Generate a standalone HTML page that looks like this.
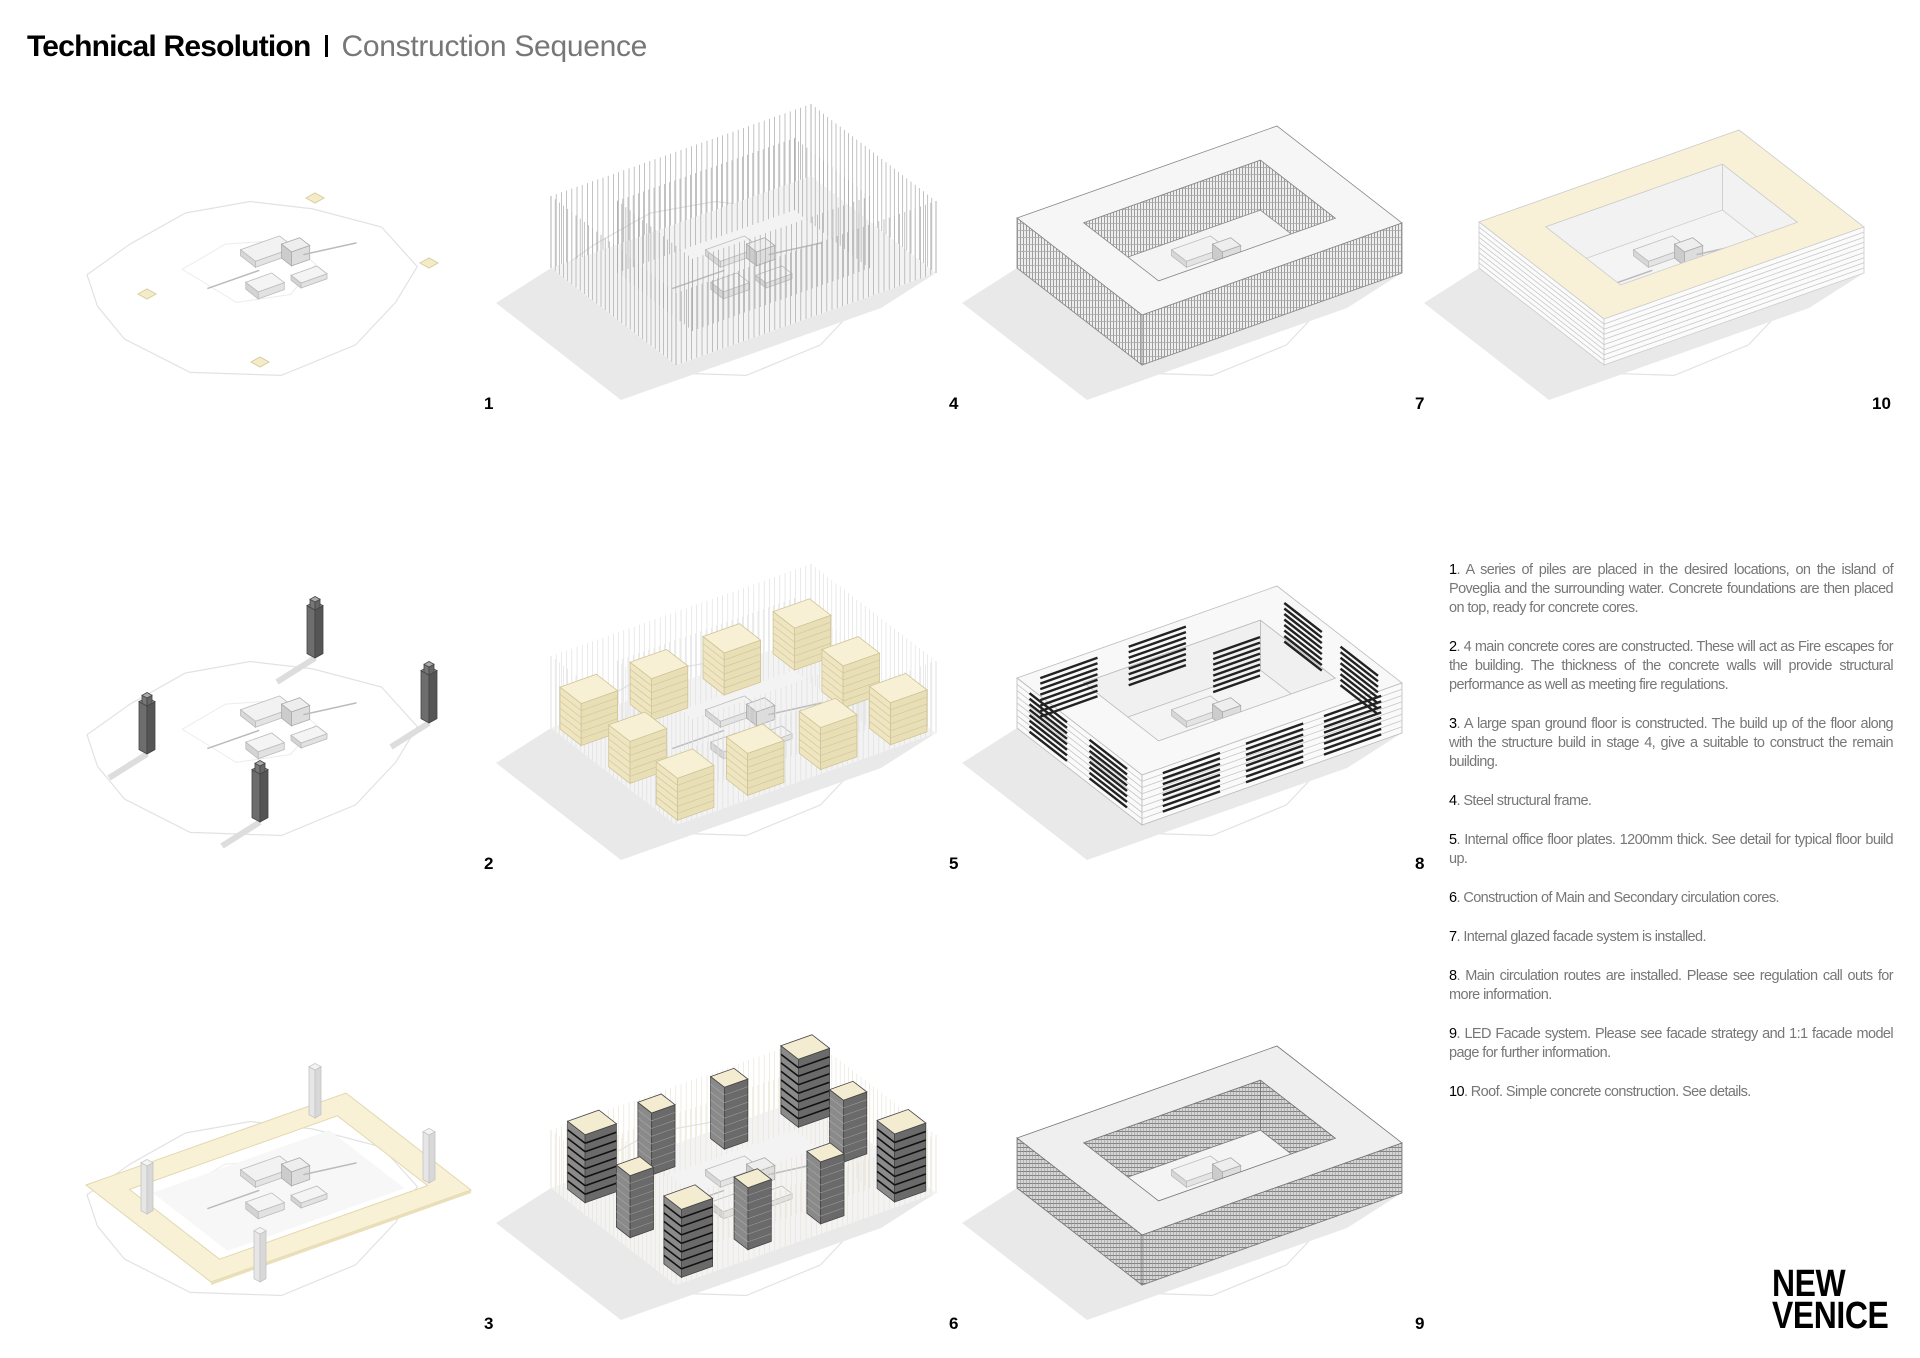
<!DOCTYPE html>
<html><head><meta charset="utf-8">
<style>
html,body{margin:0;padding:0;background:#fff;}
body{width:1920px;height:1358px;position:relative;overflow:hidden;font-family:"Liberation Sans",Arial,sans-serif;}
#title{position:absolute;left:27px;top:30px;font-size:30px;white-space:nowrap;}
#title b{font-weight:bold;letter-spacing:-0.8px;color:#000;}
#title span.bar{display:inline-block;width:3px;height:22px;background:#000;margin:0 14px 0 14px;vertical-align:-1px;}
#title span.sub{color:#777;letter-spacing:-0.3px;}
.num{position:absolute;font-weight:bold;font-size:17px;color:#000;}
#notes{position:absolute;left:1449px;top:561px;width:444px;font-size:14.5px;line-height:19px;color:#777;text-align:justify;letter-spacing:-0.6px;}
#notes p{margin:0 0 20px 0;}
#notes p b{color:#000;font-weight:normal;}
#logo{position:absolute;left:1772px;top:1268px;font-weight:bold;font-size:38px;line-height:32px;color:#000;transform:scaleX(0.84);transform-origin:left top;letter-spacing:-0.5px;}
svg{position:absolute;left:0;top:0;}
</style></head><body>
<svg id="art" width="1920" height="1358" viewBox="0 0 1920 1358"></svg>

<div id="title"><b>Technical Resolution</b><span class="bar"></span><span class="sub">Construction Sequence</span></div>

<div class="num" style="left:484px;top:394px">1</div>
<div class="num" style="left:949px;top:394px">4</div>
<div class="num" style="left:1415px;top:394px">7</div>
<div class="num" style="left:1872px;top:394px">10</div>
<div class="num" style="left:484px;top:854px">2</div>
<div class="num" style="left:949px;top:854px">5</div>
<div class="num" style="left:1415px;top:854px">8</div>
<div class="num" style="left:484px;top:1314px">3</div>
<div class="num" style="left:949px;top:1314px">6</div>
<div class="num" style="left:1415px;top:1314px">9</div>

<div id="notes">
<p><b>1</b>. A series of piles are placed in the desired locations, on the island of Poveglia and the surrounding water. Concrete foundations are then placed on top, ready for concrete cores.</p>
<p><b>2</b>. 4 main concrete cores are constructed. These will act as Fire escapes for the building. The thickness of the concrete walls will provide structural performance as well as meeting fire regulations.</p>
<p><b>3</b>. A large span ground floor is constructed. The build up of the floor along with the structure build in stage 4, give a suitable to construct the remain building.</p>
<p><b>4</b>. Steel structural frame.</p>
<p><b>5</b>. Internal office floor plates. 1200mm thick. See detail for typical floor build up.</p>
<p><b>6</b>. Construction of Main and Secondary circulation cores.</p>
<p><b>7</b>. Internal glazed facade system is installed.</p>
<p><b>8</b>. Main circulation routes are installed. Please see regulation call outs for more information.</p>
<p><b>9</b>. LED Facade system. Please see facade strategy and 1:1 facade model page for further information.</p>
<p><b>10</b>. Roof. Simple concrete construction. See details.</p>
</div>

<div id="logo">NEW<br>VENICE</div>

<script>
(function(){
var out=[];
out.push('<defs>'+
'<pattern id="vgrid" patternUnits="userSpaceOnUse" width="3" height="7"><rect width="3" height="7" fill="#eee"/><line x1="0.5" y1="0" x2="0.5" y2="7" stroke="#888" stroke-width="0.8"/><line x1="0" y1="6.5" x2="3" y2="6.5" stroke="#aaa" stroke-width="0.8"/></pattern>'+
'<pattern id="hatch" patternUnits="userSpaceOnUse" width="3" height="4"><rect width="3" height="4" fill="#d6d6d6"/><line x1="0" y1="3.5" x2="3" y2="3.5" stroke="#777" stroke-width="0.9"/><line x1="0.5" y1="0" x2="0.5" y2="4" stroke="#999" stroke-width="0.6"/></pattern>'+
'</defs>');
function P(o,s,t,h){return [o.x+s*260+t*125, o.y-s*92+t*97-(h||0)];}
function pts(a){return a.map(function(p){return p[0].toFixed(1)+','+p[1].toFixed(1);}).join(' ');}
function poly(a,fill,stroke,sw){out.push('<polygon points="'+pts(a)+'" fill="'+fill+'" stroke="'+(stroke||'none')+'" stroke-width="'+(sw||0.8)+'"/>');}
function line(a,b,stroke,sw){out.push('<line x1="'+a[0].toFixed(1)+'" y1="'+a[1].toFixed(1)+'" x2="'+b[0].toFixed(1)+'" y2="'+b[1].toFixed(1)+'" stroke="'+stroke+'" stroke-width="'+(sw||0.8)+'"/>');}
function box(o,s0,t0,s1,t1,h0,h1,top,left,front,st){
 poly([P(o,s0,t0,h0),P(o,s0,t1,h0),P(o,s0,t1,h1),P(o,s0,t0,h1)],left,st);
 poly([P(o,s0,t1,h0),P(o,s1,t1,h0),P(o,s1,t1,h1),P(o,s0,t1,h1)],front,st);
 poly([P(o,s0,t0,h1),P(o,s1,t0,h1),P(o,s1,t1,h1),P(o,s0,t1,h1)],top,st);
}
// screen-space small box: base center (x,y), half-width w, height h
function sbox(x,y,w,h,top,left,front,st){
 var d=w*0.55;
 poly([[x-w,y-d],[x,y],[x,y-h],[x-w,y-d-h]],left,st);
 poly([[x,y],[x+w,y-d],[x+w,y-d-h],[x,y-h]],front,st);
 poly([[x-w,y-d-h],[x,y-2*d-h],[x+w,y-d-h],[x,y-h]],top,st);
}
function island(o){
 var isl=[[-0.02,0.05],[0.2,-0.06],[0.45,-0.14],[0.66,-0.06],[0.8,0.15],[0.92,0.45],[0.88,0.82],[0.7,1.02],[0.45,1.22],[0.15,1.25],[-0.08,1.0],[-0.14,0.6],[-0.1,0.3]];
 poly(isl.map(function(q){return P(o,q[0],q[1],0);}),'none','#e2e2e2',1.2);
 var isl2=[[0.25,0.25],[0.45,0.18],[0.62,0.3],[0.62,0.55],[0.45,0.7],[0.28,0.62]];
 poly(isl2.map(function(q){return P(o,q[0],q[1],0);}),'none','#ececec',1);
}
function center(o){
 box(o,0.45,0.3,0.6,0.42,0,6,'#f2f2f2','#d8d8d8','#e4e4e4','#bbb');
 box(o,0.55,0.42,0.62,0.5,0,14,'#eee','#ccc','#ddd','#aaa');
 box(o,0.35,0.55,0.45,0.65,0,7,'#f4f4f4','#d4d4d4','#e2e2e2','#bbb');
 box(o,0.5,0.6,0.6,0.68,0,5,'#f4f4f4','#d4d4d4','#e2e2e2','#bbb');
 line(P(o,0.25,0.45,0),P(o,0.45,0.45,0),'#bbb',1.5);
 line(P(o,0.62,0.45,0),P(o,0.8,0.5,0),'#bbb',1.5);
}
function shadow(o){
 var d=[-55,35];
 var a=P(o,0,0,0),b=P(o,0,1,0),c=P(o,1,1,0);
 poly([a,b,c,[c[0]+d[0],c[1]+d[1]],[b[0]+d[0],b[1]+d[1]],[a[0]+d[0],a[1]+d[1]]],'#e9e9e9');
}
var A=0.16,B=0.84,C=0.2,D=0.8;
function ring(o,H,top,side,st,floors,innerSide){
 poly([P(o,A,C,0),P(o,B,C,0),P(o,B,D,0),P(o,A,D,0)],'#f4f4f4');
 poly([P(o,B,C,0),P(o,B,D,0),P(o,B,D,H),P(o,B,C,H)],innerSide||side,st);
 poly([P(o,A,C,0),P(o,B,C,0),P(o,B,C,H),P(o,A,C,H)],innerSide||side,st);
 center(o);
 var outer=[P(o,0,0,H),P(o,1,0,H),P(o,1,1,H),P(o,0,1,H)];
 var inner=[P(o,A,C,H),P(o,B,C,H),P(o,B,D,H),P(o,A,D,H)];
 out.push('<path fill-rule="evenodd" d="M'+pts(outer).replace(/ /g,' L')+' Z M'+pts(inner).replace(/ /g,' L')+' Z" fill="'+top+'" stroke="'+st+'" stroke-width="0.8"/>');
 poly([P(o,0,0,0),P(o,0,1,0),P(o,0,1,H),P(o,0,0,H)],side,st);
 poly([P(o,0,1,0),P(o,1,1,0),P(o,1,1,H),P(o,0,1,H)],side,st);
 if(floors){for(var k=1;k<floors;k++){var h=H*k/floors;
  line(P(o,0,0,h),P(o,0,1,h),'#c8c8c8',0.8);line(P(o,0,1,h),P(o,1,1,h),'#c8c8c8',0.8);}}
}
function frame(o,H,col,sw){
 var n;
 for(n=0;n<=50;n++){var s=n/50;
  line(P(o,s,0,0),P(o,s,0,H),col,sw);line(P(o,s,1,0),P(o,s,1,H),col,sw);
  if(s>=A&&s<=B){line(P(o,s,C,0),P(o,s,C,H),col,sw);line(P(o,s,D,0),P(o,s,D,H),col,sw);}
 }
 for(n=0;n<=30;n++){var t=n/30;
  line(P(o,0,t,0),P(o,0,t,H),col,sw);line(P(o,1,t,0),P(o,1,t,H),col,sw);
  if(t>=C&&t<=D){line(P(o,A,t,0),P(o,A,t,H),col,sw);line(P(o,B,t,0),P(o,B,t,H),col,sw);}
 }
}
var blocks=[[0.02,0.03],[0.29,0.03],[0.57,0.03],[0.84,0.03],[0.02,0.42],[0.84,0.42],[0.02,0.8],[0.29,0.8],[0.57,0.8],[0.84,0.8]];
var LX=[489,954,1420,1882],LY=[404,864,1324];
function O(c,r){return {x:LX[c]-403,y:LY[r]-136};}
var coreXY=[[-174,-206],[-60,-141],[-342,-110],[-229,-42]];

// Panel 1
(function(){var o=O(0,0);island(o);center(o);
 coreXY.forEach(function(c){var x=LX[0]+c[0],y=LY[0]+c[1];poly([[x-9,y],[x,y-5],[x+9,y],[x,y+5]],'#f4ecc8','#d8cd9e',1);});})();
// Panel 2
(function(){var o=O(0,1);island(o);center(o);
 coreXY.forEach(function(c){var x=LX[0]+c[0],y=LY[1]+c[1];
  line([x,y],[x-38,y+24],'#ddd',6);
  sbox(x,y,8,48,'#999','#6d6d6d','#555','#444');
  sbox(x,y-48,5,8,'#aaa','#777','#666','#444');});})();
// Panel 3
(function(){var o=O(0,2);island(o);
 var H=3;
 poly([P(o,A,C,0),P(o,B,C,0),P(o,B,D,0),P(o,A,D,0)],'#f7f7f7');center(o);
 var outer=[P(o,0,0,H),P(o,1,0,H),P(o,1,1,H),P(o,0,1,H)],inner=[P(o,0.1,0.14,H),P(o,0.9,0.14,H),P(o,0.9,0.86,H),P(o,0.1,0.86,H)];
 out.push('<path fill-rule="evenodd" d="M'+pts(outer).replace(/ /g,' L')+' Z M'+pts(inner).replace(/ /g,' L')+' Z" fill="#f8f1d6" stroke="#e2d8b0" stroke-width="1"/>');
 poly([P(o,0,1,0),P(o,1,1,0),P(o,1,1,H),P(o,0,1,H)],'#eadfb8');
 coreXY.forEach(function(c){var x=LX[0]+c[0],y=LY[2]+c[1];sbox(x,y,6,48,'#f4f4f4','#e6e6e6','#d8d8d8','#c4c4c4');});})();
// Panel 4
(function(){var o=O(1,0);island(o);shadow(o);poly([P(o,0,0,0),P(o,1,0,0),P(o,1,1,0),P(o,0,1,0)],'#f3f3f3');center(o);frame(o,72,'#a8a8a8',0.7);})();
// Panel 5
(function(){var o=O(1,1);island(o);shadow(o);poly([P(o,0,0,0),P(o,1,0,0),P(o,1,1,0),P(o,0,1,0)],'#f3f3f3');center(o);frame(o,72,'#dcdcdc',0.6);
 blocks.forEach(function(b){box(o,b[0],b[1],b[0]+0.14,b[1]+0.17,0,42,'#f7f0d4','#efe5c0','#e9dfb6','#cfc496');
  for(var k=1;k<6;k++){var h=42*k/6;line(P(o,b[0],b[1]+0.17,h),P(o,b[0]+0.14,b[1]+0.17,h),'#d2c79c',0.7);line(P(o,b[0],b[1],h),P(o,b[0],b[1]+0.17,h),'#d2c79c',0.7);}});})();
// Panel 6
(function(){var o=O(1,2);island(o);shadow(o);poly([P(o,0,0,0),P(o,1,0,0),P(o,1,1,0),P(o,0,1,0)],'#f3f3f3');center(o);frame(o,58,'#e6e2d0',0.6);
 blocks.forEach(function(b,i){var big=(i==0||i==3||i==6||i==9);var s0=b[0]+0.02,t0=b[1]+0.02,ds=big?0.12:0.09,dt=big?0.14:0.11;var HH=big?68:62;
  box(o,s0,t0,s0+ds,t0+dt,0,HH,'#f3ecd0','#8a8a8a','#6a6a6a','#444');
  for(var k=1;k<8;k++){var h=HH*k/8;line(P(o,s0,t0+dt,h),P(o,s0+ds,t0+dt,h),big?'#111':'#999',big?1.6:0.6);line(P(o,s0,t0,h),P(o,s0,t0+dt,h),big?'#111':'#aaa',big?1.6:0.6);}});})();
// Panel 7
(function(){var o=O(2,0);island(o);shadow(o);ring(o,50,'#f6f6f6','url(#vgrid)','#888',0,'url(#vgrid)');})();
// Panel 8
(function(){var o=O(2,1);island(o);shadow(o);ring(o,50,'#f8f8f8','#fafafa','#bbb',8,'#f0f0f0');
 function patchS(s,t0,t1){for(var k=0;k<8;k++){var h=6+k*5.5;line(P(o,s,t0,h),P(o,s,t1,h),'#222',2.4);}}
 function patchT(t,s0,s1){for(var k=0;k<8;k++){var h=6+k*5.5;line(P(o,s0,t,h),P(o,s1,t,h),'#222',2.4);}}
 patchT(0.02,0.08,0.3);patchT(0.02,0.42,0.64);patchS(0.98,0.1,0.4);patchS(0.98,0.55,0.85);
 patchT(0.28,0.62,0.8);
 patchS(0.0,0.1,0.4);patchS(0.0,0.58,0.88);
 patchT(1.0,0.08,0.3);patchT(1.0,0.4,0.62);patchT(1.0,0.7,0.92);})();
// Panel 9
(function(){var o=O(2,2);island(o);shadow(o);ring(o,50,'#efefef','url(#hatch)','#777',0,'url(#hatch)');})();
// Panel 10
(function(){var o=O(3,0);island(o);shadow(o);ring(o,46,'#f8f1d8','#fbfbfb','#ccc',9,'#f2f2f2');})();

document.getElementById('art').innerHTML=out.join('');
})();
</script>
</body></html>
